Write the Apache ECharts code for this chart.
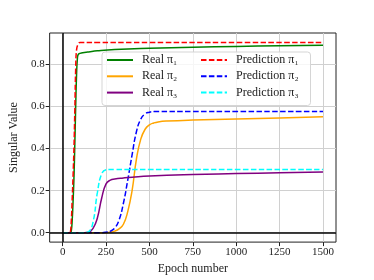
<!DOCTYPE html>
<html><head><meta charset="utf-8">
<script src="https://cdn.jsdelivr.net/npm/echarts@6/dist/echarts.min.js"></script>
<style>html,body{margin:0;padding:0;background:#fff}#c{width:374px;height:280px}</style>
</head><body><div id="c"></div>
<script>
const xTicks = [0, 250, 500, 750, 1000, 1250, 1500];
const yTicks = [0, 0.2, 0.4, 0.6, 0.8];

const real1X = [0, 45, 50, 55, 60, 65, 70, 75, 80, 85, 90, 100, 125, 150, 200, 300, 500, 750, 1000, 1250, 1500];
const real1Y = [0, 0, 0.01, 0.06, 0.15, 0.26, 0.42, 0.6, 0.75, 0.83, 0.848, 0.853, 0.857, 0.86, 0.865, 0.871, 0.877, 0.882, 0.886, 0.889, 0.892];

const pred1X = [0, 40, 45, 50, 55, 60, 65, 70, 75, 80, 90, 100, 200, 500, 1000, 1500];
const pred1Y = [0, 0, 0.005, 0.06, 0.16, 0.27, 0.4, 0.58, 0.78, 0.87, 0.898, 0.905, 0.905, 0.905, 0.905, 0.905];

const real2X = [0, 250, 275, 300, 325, 350, 375, 400, 425, 450, 475, 500, 525, 550, 600, 750, 1000, 1250, 1500];
const real2Y = [0, 0, 0.002, 0.007, 0.018, 0.04, 0.1, 0.2, 0.35, 0.445, 0.492, 0.513, 0.522, 0.527, 0.531, 0.536, 0.541, 0.546, 0.551];

const pred2X = [0, 225, 250, 275, 300, 325, 350, 375, 400, 425, 450, 475, 500, 525, 550, 750, 1000, 1500];
const pred2Y = [0, 0, 0.002, 0.007, 0.022, 0.06, 0.14, 0.25, 0.37, 0.48, 0.54, 0.565, 0.573, 0.576, 0.577, 0.577, 0.577, 0.577];

const real3X = [0, 125, 150, 175, 200, 225, 250, 275, 300, 350, 400, 500, 750, 1000, 1250, 1500];
const real3Y = [0, 0, 0.002, 0.02, 0.07, 0.165, 0.232, 0.25, 0.255, 0.26, 0.264, 0.27, 0.277, 0.281, 0.285, 0.288];

const pred3X = [0, 125, 150, 175, 200, 225, 250, 275, 300, 500, 1000, 1500];
const pred3Y = [0, 0, 0.005, 0.05, 0.19, 0.28, 0.299, 0.301, 0.301, 0.301, 0.301, 0.301];

const names = ['Real π₁', 'Prediction π₁', 'Real π₂', 'Prediction π₂', 'Real π₃', 'Prediction π₃'];
const colors = ['#008000', '#ff0000', '#ffa500', '#0000ff', '#800080', '#00ffff'];

const zip = (xs, ys) => xs.map((x, i) => [x, ys[i]]);
const seriesData = [zip(real1X, real1Y), zip(pred1X, pred1Y), zip(real2X, real2Y), zip(pred2X, pred2Y), zip(real3X, real3Y), zip(pred3X, pred3Y)];

const FONT = '"Liberation Serif", "Times New Roman", serif';
const chart = echarts.init(document.getElementById('c'), null, {renderer: 'canvas'});

const series = seriesData.map((d, i) => ({
  name: names[i], type: 'line', data: d, showSymbol: false, symbol: 'circle', symbolSize: 0,
  smooth: 0.5,
  z: 3,
  lineStyle: {color: colors[i], width: 1.5, type: i % 2 === 1 ? [5.5, 2.4] : 'solid'},
  itemStyle: {color: colors[i]}
}));
series.unshift({
  name: 'zero', type: 'line', data: [], z: 2,
  markLine: {
    silent: true, symbol: 'none', label: {show: false},
    lineStyle: {color: '#000', width: 1.5, type: 'solid'},
    data: [{xAxis: 0}, {yAxis: 0}]
  }
});

const legendCommon = {
  orient: 'vertical', itemWidth: 26, itemHeight: 12, itemGap: 4.3,
  itemStyle: {opacity: 0, borderWidth: 0},
  textStyle: {fontFamily: FONT, fontSize: 12, color: '#222', padding: [0, 0, 0, 4]},
  padding: 0, z: 10
};

chart.setOption({
  animation: false,
  textStyle: {fontFamily: FONT},
  grid: {left: 46, right: 38, top: 33, bottom: 31, show: true, borderColor: '#222', borderWidth: 1, backgroundColor: 'transparent'},
  xAxis: {
    type: 'value', min: -75, max: 1575,
    name: 'Epoch number', nameLocation: 'middle', nameGap: 18,
    nameTextStyle: {fontFamily: FONT, fontSize: 12, color: '#222'},
    axisLine: {show: false, onZero: false},
    axisTick: {show: true, length: 4, customValues: xTicks, lineStyle: {color: '#222'}},
    axisLabel: {customValues: xTicks, fontFamily: FONT, fontSize: 11, color: '#222', margin: 5,
      formatter: v => String(v)},
    splitLine: {show: true, lineStyle: {color: '#d0d0d0', width: 1}}
  },
  yAxis: {
    type: 'value', min: -0.045, max: 0.95,
    name: 'Singular Value', nameLocation: 'middle', nameGap: 21,
    nameTextStyle: {fontFamily: FONT, fontSize: 12, color: '#222'},
    axisLine: {show: false, onZero: false},
    axisTick: {show: true, length: 4, customValues: yTicks, lineStyle: {color: '#222'}},
    axisLabel: {customValues: yTicks, fontFamily: FONT, fontSize: 11, color: '#222', margin: 5,
      formatter: v => v.toFixed(1)},
    splitLine: {show: true, lineStyle: {color: '#d0d0d0', width: 1}}
  },
  legend: [
    Object.assign({left: 106, top: 54, data: [names[0], names[2], names[4]]}, legendCommon),
    Object.assign({left: 200, top: 54, data: [names[1], names[3], names[5]]}, legendCommon)
  ],
  graphic: [{
    type: 'rect', z: 5, left: 101.5, top: 51.5,
    shape: {width: 208.5, height: 53.5, r: 3},
    style: {fill: 'rgba(255,255,255,0.8)', stroke: '#d5d5d5', lineWidth: 1}
  }],
  series: series
});
</script></body></html>
